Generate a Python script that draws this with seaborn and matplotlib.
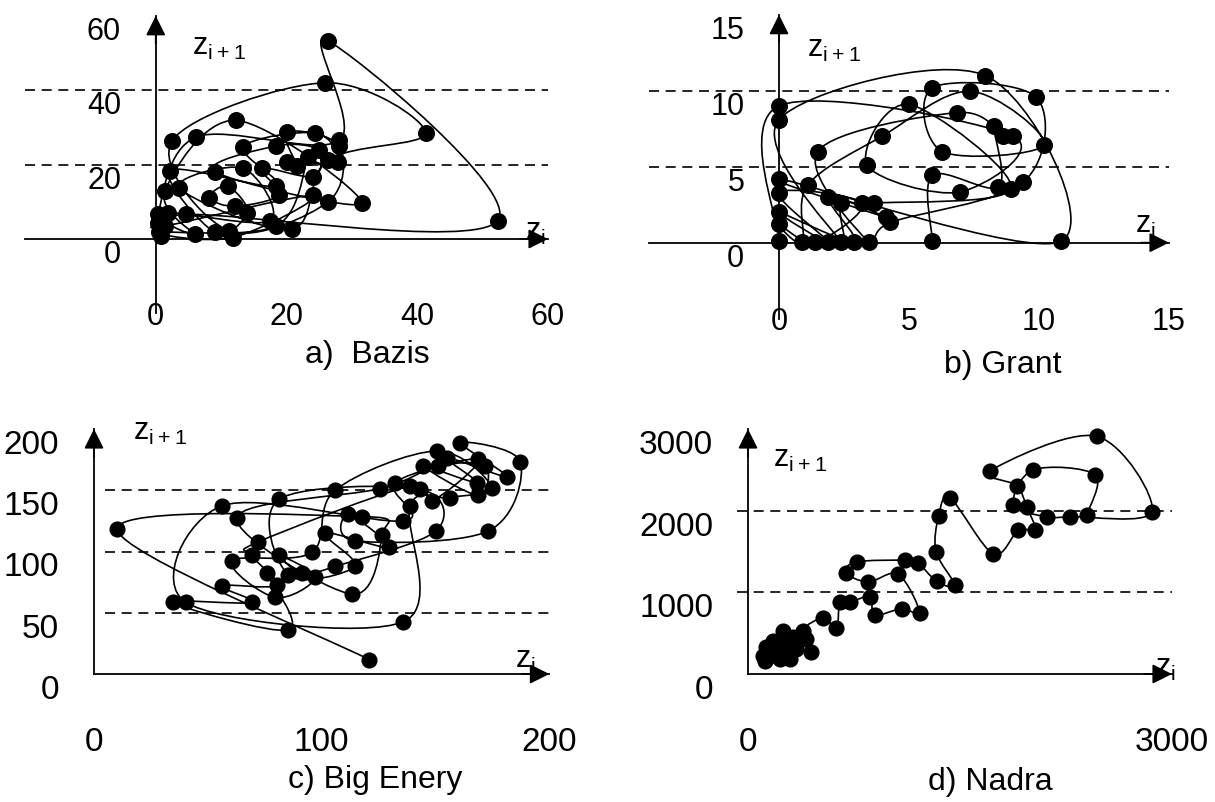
import numpy as np
import matplotlib
matplotlib.use('Agg')
import matplotlib.pyplot as plt
import seaborn as sns
from matplotlib import font_manager
from matplotlib.path import Path
from matplotlib.patches import PathPatch

sns.set_style('white')
plt.rcParams['font.family'] = ['Liberation Sans', 'DejaVu Sans']
plt.rcParams['mathtext.default'] = 'regular'

# points (z_i, z_i+1), listed in the order they are joined
bazis_x = [0.8, 0.3, 6.2, 28.1, 26.3, 52.3, 4.7, 6.0, 1.4, 12.3, 31.5, 9.0, 18.4, 24.9, 24.1, 16.2, 18.9,
           12.1, 8.2, 11.0, 14.0, 9.0, 2.2, 18.4, 13.4, 24.4, 27.9, 20.0, 21.6, 20.0, 28.1, 26.3, 11.2,
           2.5, 25.9, 41.3, 26.3, 20.8, 3.6, 13.4, 17.5, 1.9, 0.3, 1.4, 24.1, 11.8, 0.5, 18.4, 23.3]
bazis_y = [0.7, 6.6, 27.4, 26.5, 53.3, 4.9, 6.6, 1.3, 12.8, 31.9, 9.6, 18.1, 25.0, 23.9, 16.8, 19.0, 11.9,
           8.8, 11.1, 14.2, 7.1, 1.8, 18.4, 14.2, 24.8, 28.5, 20.8, 20.8, 19.5, 28.8, 25.0, 9.9, 2.2,
           26.4, 42.0, 28.5, 21.2, 2.7, 13.7, 19.0, 4.9, 7.1, 4.4, 3.5, 11.7, 0.4, 1.8, 3.5, 22.1]

grant_x = [0, 0, 9.0, 6.95, 3.39, 5.0, 8.92, 3.64, 2.38, 2.4, 0, 7.93, 10.85, 0, 4.1, 1.9, 2.9, 0, 1.9,
           0, 3.2, 1.4, 0, 0.9, 1.1, 3.96, 7.36, 10.2, 6.28, 5.9, 9.9, 9.4, 4.28, 3.45, 1.49, 6.86,
           8.6, 8.26, 8.44, 5.9, 5.9]
grant_y = [0.1, 9.0, 7.0, 3.33, 5.1, 9.1, 3.56, 2.6, 2.6, 0.05, 8.1, 11.0, 0.1, 4.2, 1.67, 3.0, 0.05, 2.0,
           0.05, 3.3, 2.6, 0.05, 1.22, 0.05, 3.78, 7.0, 9.96, 6.44, 6.0, 10.2, 9.56, 4.0, 1.33, 0.05,
           6.0, 8.56, 7.04, 7.67, 3.67, 4.44, 0.1]

energy_x = [120.9, 10.2, 117.6, 126.4, 113.2, 62.7, 125.6, 151.2, 171.7, 168.8, 144.7, 168.1, 155.0,
            181.3, 160.8, 187.2, 173.2, 114.6, 111.7, 129.7, 101.5, 114.6, 85.4, 81.4, 143.2, 150.2,
            105.9, 91.2, 81.4, 97.1, 79.5, 60.5, 95.6, 105.9, 150.5, 174.7, 156.4, 138.8, 135.9, 40.4,
            56.1, 135.9, 132.2, 168.8, 148.3, 138.8, 72.2, 69.2, 80.2, 56.1, 69.2, 34.6, 85.4, 75.8]
energy_y = [11.7, 118.2, 128.5, 113.3, 65.2, 127.7, 151.4, 169.8, 169.8, 145.9, 169.8, 156.3, 176.6,
            161.2, 188.9, 173.4, 116.8, 108.7, 130.4, 103.3, 115.0, 87.8, 80.7, 142.7, 150.8, 116.8,
            87.8, 82.3, 97.0, 78.8, 62.5, 92.4, 99.2, 150.0, 182.0, 152.2, 144.0, 137.2, 42.7, 58.4,
            137.2, 125.0, 156.3, 175.3, 141.3, 153.5, 107.9, 97.0, 72.6, 72.0, 58.4, 58.4, 36.1, 82.3]

nadra_x = [120, 106, 153, 180, 224, 280, 295, 200, 177, 130, 342, 260, 318, 248, 413, 448, 389, 531,
           626, 650, 720, 862, 898, 1087, 1216, 1063, 850, 690, 770, 1110, 1200, 1335, 1464, 1330,
           1350, 1432, 1735, 1913, 2031, 1972, 1901, 1715, 2468, 2858, 2279, 2114, 1878, 2020, 2456, 2397]
nadra_y = [160, 224, 265, 230, 184, 250, 184, 300, 408, 330, 306, 350, 449, 531, 429, 265, 531, 684,
           561, 881, 881, 943, 725, 799, 750, 1221, 1127, 1242, 1373, 1393, 1365, 1135, 1086, 1500,
           1938, 2150, 1472, 1762, 1762, 2049, 2307, 2490, 2910, 1988, 1926, 1926, 2070, 2500, 2438, 1947]

# lower panels use tall, narrow tick numbers
installed = {f.name for f in font_manager.fontManager.ttflist}
if 'Liberation Sans Narrow' in installed:
    tall_font, tall_size = 'Liberation Sans Narrow', 28
else:
    tall_font, tall_size = 'Liberation Sans', 24

W, H = 1215, 803
fig = plt.figure(figsize=(W / 100, H / 100), dpi=100)


def smooth_path(x, y, t=1 / 6):
    # curved joins through the points (bezier from neighbouring points)
    p = np.column_stack([x, y]).astype(float)
    n = len(p)
    verts = [p[0]]
    codes = [Path.MOVETO]
    for i in range(n - 1):
        p0 = p[i - 1] if i > 0 else p[i]
        p1, p2 = p[i], p[i + 1]
        p3 = p[i + 2] if i + 2 < n else p[i + 1]
        verts += [p1 + (p2 - p0) * t, p2 - (p3 - p1) * t, p2]
        codes += [Path.CURVE4] * 3
    return Path(verts, codes)


def panel(rect, lim, ticks, labels, grid, xpad, x, y, dot, font, fsize, grid_from=0.0):
    l, r, t, b = rect
    ax = fig.add_axes([l / W, 1 - b / H, (r - l) / W, (b - t) / H])
    ax.set_facecolor('none')
    ax.set_xlim(lim)
    ax.set_ylim(lim)
    for s in ['top', 'right']:
        ax.spines[s].set_visible(False)
    for s in ['left', 'bottom']:
        ax.spines[s].set_position(('data', 0))
        ax.spines[s].set_linewidth(1.3)
        ax.spines[s].set_color('black')
    ax.set_xticks(ticks[0], labels=labels[0])
    ax.set_yticks(ticks[1], labels=labels[1])
    ax.tick_params(axis='both', direction='out', length=9, width=1.3, color='black',
                   labelsize=fsize, labelcolor='black')
    ax.tick_params(axis='y', pad=16)
    ax.tick_params(axis='x', pad=xpad)
    for lab in ax.get_yticklabels():
        lab.set_verticalalignment('top')
        lab.set_fontfamily(font)
    for lab in ax.get_xticklabels():
        lab.set_fontfamily(font)
    for g in grid:
        ax.axhline(g, xmin=grid_from, xmax=1, color='black', lw=1.2, ls=(0, (6, 4)),
                   zorder=1, clip_on=False)
    arrow = dict(arrowstyle='-|>,head_length=0.6,head_width=0.3', fc='black', ec='black',
                 lw=1.3, shrinkA=0, shrinkB=0, mutation_scale=20)
    ax.annotate('', xy=(lim[1], 0), xytext=(-20, 0), textcoords='offset points',
                arrowprops=arrow, annotation_clip=False)
    ax.annotate('', xy=(0, lim[1]), xytext=(0, -20), textcoords='offset points',
                arrowprops=arrow, annotation_clip=False)
    ax.add_patch(PathPatch(smooth_path(x, y), fill=False, ec='black', lw=1.2, zorder=2,
                           clip_on=False))
    sns.scatterplot(x=x, y=y, ax=ax, s=dot, color='black', edgecolor='black', linewidth=0,
                    zorder=3, legend=False, clip_on=False)
    return ax


panel((25, 548, 16.8, 314.4), (-20, 60),
      ([-20, 0, 20, 40, 60], [-20, 0, 20, 40, 60]),
      (['', '0', '20', '40', '60'], ['', '0', '20', '40', '60']),
      [20, 40], 35.5, bazis_x, bazis_y, 150, 'Liberation Sans', 22)
panel((649, 1169, 15.7, 319.7), (-5, 15),
      ([-5, 0, 5, 10, 15], [-5, 0, 5, 10, 15]),
      (['', '0', '5', '10', '15'], ['', '0', '5', '10', '15']),
      [5, 10], 36.5, grant_x, grant_y, 150, 'Liberation Sans', 22)
panel((94, 549.4, 430, 675), (0, 200),
      ([0, 100, 200], [0, 50, 100, 150, 200]),
      (['0', '100', '200'], ['0', '50', '100', '150', '200']),
      [50, 100, 150], 28.4, energy_x, energy_y, 135, tall_font, tall_size, grid_from=0.025)
panel((748, 1172, 430, 675), (0, 3000),
      ([0, 3000], [0, 1000, 2000, 3000]),
      (['0', '3000'], ['0', '1000', '2000', '3000']),
      [1000, 2000], 28.4, nadra_x, nadra_y, 135, tall_font, tall_size, grid_from=-0.026)


def ftext(px, py, s, size, ha='left', va='center'):
    fig.text(px / W, 1 - py / H, s, fontsize=size, ha=ha, va=va, color='black')


zi1 = 'z$_{i+1}$'
zi = 'z$_{i}$'
ftext(192, 55, zi1, 22, va='baseline')
ftext(525, 232, zi, 22)
ftext(367, 355, 'a)  Bazis', 23, ha='center')
ftext(807, 57, zi1, 22, va='baseline')
ftext(1135, 225, zi, 22)
ftext(1003, 365, 'b) Grant', 23, ha='center')
ftext(133, 440, zi1, 22, va='baseline')
ftext(515, 660, zi, 22)
ftext(375, 780, 'c) Big Enery', 23, ha='center')
ftext(773, 467, zi1, 22, va='baseline')
ftext(1155, 668, zi, 22)
ftext(990, 782, 'd) Nadra', 23, ha='center')

fig.savefig('out.png', dpi=100)
